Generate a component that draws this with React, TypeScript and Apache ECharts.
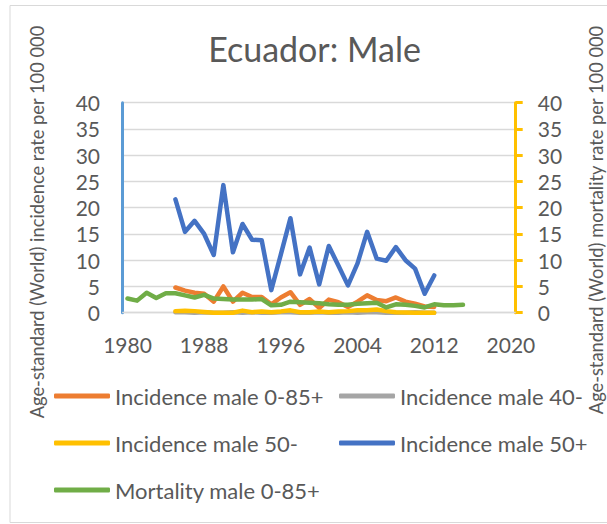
import React, { useEffect, useRef } from "react";
import * as echarts from "echarts";

const incYears = [1985, 1986, 1987, 1988, 1989, 1990, 1991, 1992, 1993, 1994, 1995, 1996, 1997, 1998, 1999, 2000, 2001, 2002, 2003, 2004, 2005, 2006, 2007, 2008, 2009, 2010, 2011, 2012];
const mortYears = [1980, 1981, 1982, 1983, 1984, 1985, 1986, 1987, 1988, 1989, 1990, 1991, 1992, 1993, 1994, 1995, 1996, 1997, 1998, 1999, 2000, 2001, 2002, 2003, 2004, 2005, 2006, 2007, 2008, 2009, 2010, 2011, 2012, 2013, 2014, 2015];

const incidence0_85 = [4.8, 4.2, 3.8, 3.6, 2.1, 5.0, 2.1, 3.8, 3.0, 3.0, 1.6, 2.9, 3.9, 1.5, 2.6, 0.9, 2.5, 2.0, 1.1, 2.1, 3.3, 2.4, 2.2, 2.9, 2.1, 1.7, 1.2, 1.1];
const incidence40 = [0.1, 0.1, 0.0, 0.1, 0.0, 0.0, 0.1, 0.0, 0.1, 0.0, 0.0, 0.1, 0.1, 0.0, 0.0, 0.1, 0.0, 0.0, 0.1, 0.0, 0.1, 0.1, 0.0, 0.0, 0.0, 0.1, 0.0, 0.0];
const incidence50minus = [0.3, 0.35, 0.3, 0.15, 0.0, 0.0, 0.0, 0.4, 0.1, 0.25, 0.1, 0.25, 0.45, 0.1, 0.1, 0.25, 0.1, 0.25, 0.3, 0.45, 0.45, 0.6, 0.3, 0.1, 0.05, 0.0, 0.0, 0.0];
const incidence50plus = [21.6, 15.4, 17.5, 15.0, 11.0, 24.3, 11.5, 16.9, 13.9, 13.8, 4.3, 11.1, 18.0, 7.3, 12.4, 5.4, 12.7, 9.0, 5.2, 9.4, 15.4, 10.3, 9.9, 12.5, 10.0, 8.4, 3.6, 7.1];
const mortality0_85 = [2.7, 2.3, 3.8, 2.8, 3.7, 3.7, 3.3, 2.9, 3.4, 2.7, 2.6, 2.5, 2.5, 2.5, 2.6, 1.4, 1.5, 2.1, 2.0, 1.9, 1.8, 1.6, 1.5, 1.5, 1.7, 1.8, 1.9, 1.0, 1.6, 1.5, 1.3, 1.0, 1.6, 1.4, 1.4, 1.5];

const xTickLabels = [1980, 1988, 1996, 2004, 2012, 2020];

const seriesNames = ["Incidence male 0-85+", "Incidence male 40-", "Incidence male 50-", "Incidence male 50+", "Mortality male 0-85+"];
const seriesColors = ["#ED7D31", "#A5A5A5", "#FFC000", "#4472C4", "#70AD47"];

const FONT = "Lato, 'Open Sans', sans-serif";
const TXT = "#595959";

function pairs(xs: number[], ys: number[]) {
  return xs.map((x, i) => [x, ys[i]]);
}

export default function App() {
  const ref = useRef<HTMLDivElement>(null);
  useEffect(() => {
    if (!ref.current) return;
    const chart = echarts.init(ref.current, undefined, { renderer: "svg" });
    const dataSets = [
      pairs(incYears, incidence0_85),
      pairs(incYears, incidence40),
      pairs(incYears, incidence50minus),
      pairs(incYears, incidence50plus),
      pairs(mortYears, mortality0_85),
    ];
    const legendPos = [
      [54, 385],
      [339, 385],
      [54, 432],
      [339, 432],
      [54, 479],
    ];
    chart.setOption({
      animation: false,
      backgroundColor: "#ffffff",
      grid: { left: 122.7, right: 91.3, top: 102.7, bottom: 211.3, containLabel: false },
      graphic: [
        {
          type: "rect",
          shape: { x: 10, y: 5.5, width: 620, height: 517 },
          style: { fill: "none", stroke: "#D9D9D9", lineWidth: 1 },
          silent: true,
        },
        {
          type: "text",
          x: 314.5,
          y: 48,
          style: { text: "Ecuador: Male", align: "center", verticalAlign: "middle", fontSize: 34, fontFamily: FONT, fill: TXT },
        },
        {
          type: "text",
          x: 37,
          y: 222,
          rotation: Math.PI / 2,
          style: { text: "Age-standard (World) incidence rate per 100 000", align: "center", verticalAlign: "middle", fontSize: 18.3, fontFamily: FONT, fill: TXT },
        },
        {
          type: "text",
          x: 596,
          y: 220,
          rotation: Math.PI / 2,
          style: { text: "Age-standard (World) mortality rate per 100 000", align: "center", verticalAlign: "middle", fontSize: 18.3, fontFamily: FONT, fill: TXT },
        },
      ],
      legend: seriesNames.map((n, i) => ({
        data: [n],
        left: legendPos[i][0],
        top: legendPos[i][1],
        padding: 0,
        icon: "roundRect",
        itemWidth: 56,
        itemHeight: 5,
        selectedMode: false,
        textStyle: { fontSize: 22, fontFamily: FONT, color: TXT },
      })),
      xAxis: {
        type: "value",
        min: 1979.5,
        max: 2020.5,
        axisLine: { show: true, lineStyle: { color: "#D9D9D9", width: 1.3 } },
        axisTick: { show: false },
        splitLine: { show: false },
        axisLabel: {
          customValues: xTickLabels,
          formatter: (v: number) => String(Math.round(v)),
          margin: 21,
          fontSize: 21,
          fontFamily: FONT,
          color: TXT,
        },
      },
      yAxis: [
        {
          type: "value",
          position: "left",
          min: 0,
          max: 40,
          interval: 5,
          axisLine: { show: true, lineStyle: { color: "#5B9BD5", width: 3 } },
          axisTick: { show: false },
          splitLine: { show: true, lineStyle: { color: "#D9D9D9", width: 1.3 } },
          axisLabel: { margin: 22.7, fontSize: 21, fontFamily: FONT, color: TXT },
        },
        {
          type: "value",
          position: "right",
          min: 0,
          max: 40,
          interval: 5,
          axisLine: { show: true, lineStyle: { color: "#FFC000", width: 3 } },
          axisTick: { show: true, inside: false, length: 7, lineStyle: { color: "#FFC000", width: 3 } },
          splitLine: { show: false },
          axisLabel: { margin: 22, fontSize: 21, fontFamily: FONT, color: TXT },
        },
      ],
      series: seriesNames.map((n, i) => ({
        name: n,
        type: "line",
        yAxisIndex: i === 4 ? 1 : 0,
        data: dataSets[i],
        symbol: "none",
        showSymbol: false,
        color: seriesColors[i],
        lineStyle: { color: seriesColors[i], width: 4.5, cap: "round", join: "round" },
        itemStyle: { color: seriesColors[i] },
      })),
    });
    return () => chart.dispose();
  }, []);
  return <div ref={ref} style={{ position: "fixed", left: 0, top: 0, width: 607, height: 524 }} />;
}
